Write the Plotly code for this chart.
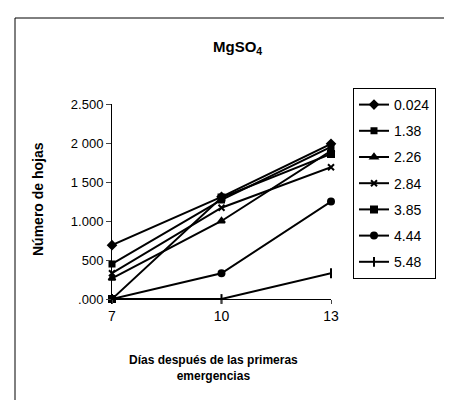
import plotly.graph_objects as go

days = [7, 10, 13]
series_names = ["0.024", "1.38", "2.26", "2.84", "3.85", "4.44", "5.48"]
s_0024 = [690, 1310, 1990]
s_138 = [450, 1270, 1950]
s_226 = [265, 1000, 1900]
s_284 = [330, 1170, 1690]
s_385 = [0, 1300, 1860]
s_444 = [0, 330, 1250]
s_548 = [0, 0, 330]
series_values = [s_0024, s_138, s_226, s_284, s_385, s_444, s_548]
y_tickvals = [0, 500, 1000, 1500, 2000, 2500]
y_ticktext = [".000", "500", "1.000", "1 500", "2 000", "2.500"]
x_tickvals = [7, 10, 13]

symbols = ["diamond", "square", "triangle-up", "x-thin-open", "square", "circle", "line-ns-open"]
sizes = [6, 5, 6, 6, 6, 6, 7]

fig = go.Figure()
for i, (name, vals) in enumerate(zip(series_names, series_values)):
    fig.add_trace(go.Scatter(
        x=days, y=vals, name=name, mode="lines+markers",
        legendgroup=f"g{i}",
        line=dict(color="black", width=2),
        marker=dict(symbol=symbols[i], size=sizes[i], color="black",
                    line=dict(color="black", width=2)),
        cliponaxis=False,
    ))

W, H = 452, 400
L, R, T, B = 104, 323, 96, 291
def px(x):
    return (x - L) / (R - L)
def py(y):
    return (B - y) / (B - T)

fig.update_layout(
    width=W, height=H,
    margin=dict(l=L, r=W - R, t=T, b=H - B),
    paper_bgcolor="white", plot_bgcolor="white",
    font=dict(family="Liberation Sans, Arial, sans-serif", color="black", size=13),
    showlegend=True,
    legend=dict(
        x=px(345), y=py(80), xanchor="left", yanchor="top",
        bordercolor="black", borderwidth=1, bgcolor="white",
        font=dict(size=14), tracegroupgap=5, itemwidth=30,
    ),
    xaxis=dict(
        range=[7, 13], tickvals=x_tickvals, ticks="outside", ticklen=4,
        showline=True, linecolor="black", linewidth=1, showgrid=False,
        zeroline=False, tickfont=dict(size=14),
    ),
    yaxis=dict(
        range=[0, 2500], tickvals=y_tickvals, ticktext=y_ticktext,
        ticks="outside", ticklen=5, showline=True, linecolor="black",
        linewidth=1, showgrid=False, zeroline=False, tickfont=dict(size=13),
    ),
    annotations=[
        dict(text="<b>MgSO<sub>4</sub></b>", x=px(229), y=py(40), xref="paper", yref="paper",
             showarrow=False, font=dict(size=15), xanchor="center", yanchor="middle"),
        dict(text="<b>Días después de las primeras<br>emergencias</b>", x=px(205), y=py(360),
             xref="paper", yref="paper", showarrow=False, font=dict(size=12),
             xanchor="center", yanchor="middle"),
        dict(text="<b>Número de hojas</b>", x=px(30), y=py(191), xref="paper", yref="paper",
             showarrow=False, textangle=-90, font=dict(size=14),
             xanchor="center", yanchor="middle"),
    ],
    shapes=[
        dict(type="line", xref="paper", yref="paper", x0=px(7), x1=px(7), y0=py(10), y1=py(400),
             line=dict(color="black", width=1)),
        dict(type="line", xref="paper", yref="paper", x0=px(7), x1=px(452), y0=py(10), y1=py(10),
             line=dict(color="black", width=1)),
    ],
)

fig.write_html("out.html")
